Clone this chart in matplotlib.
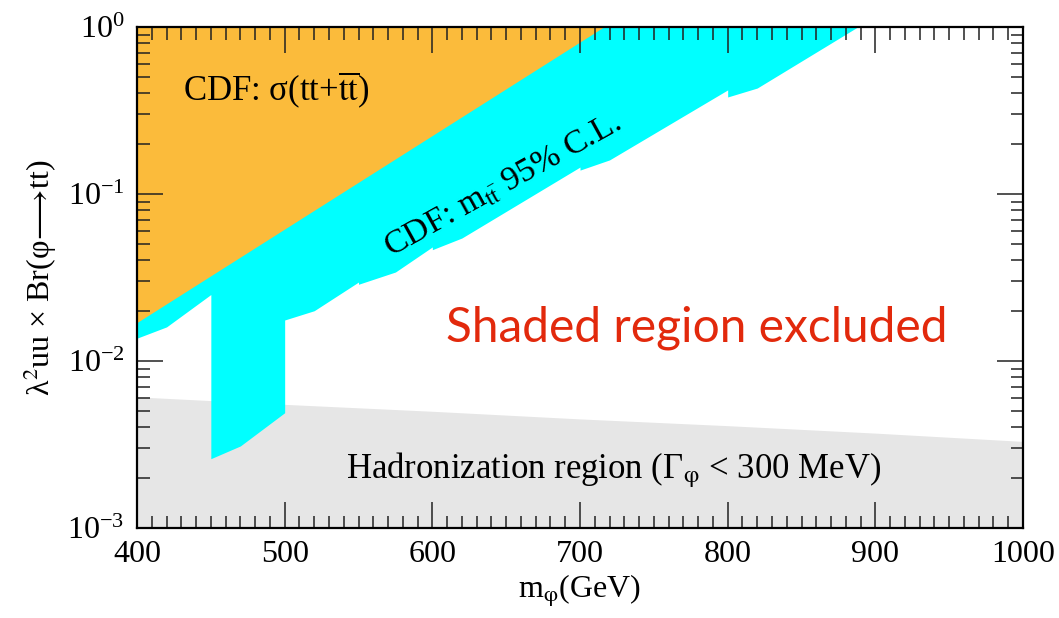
import numpy as np
import matplotlib
matplotlib.use("Agg")
import matplotlib.pyplot as plt
from matplotlib.ticker import LogFormatterMathtext, MultipleLocator, LogLocator

plt.rcParams['font.family'] = ['Liberation Serif', 'DejaVu Serif']
plt.rcParams['mathtext.fontset'] = 'stix'

# CDF sigma(tt+tt~) exclusion: straight edge in log scale
mass_sigma = [400, 716, 1000]
limit_sigma = [0.017, 1.0, 1.0]

# CDF m_tt 95% C.L. exclusion, lower edge (steps at the mass points)
mass_mtt = [400, 420, 450, 450, 470, 500, 500, 520, 550, 550, 575, 600, 600, 620,
            700, 700, 720, 800, 800, 820, 888, 1000]
limit_mtt = [0.0137, 0.016, 0.025, 0.0026, 0.0031, 0.0049, 0.0176, 0.020, 0.0297, 0.0288,
             0.0341, 0.0482, 0.0464, 0.0545, 0.145, 0.139, 0.160, 0.42, 0.381, 0.431, 1.0, 1.0]

# hadronization region (Gamma_phi < 300 MeV), upper edge
mass_had = [400, 500, 600, 700, 800, 900, 1000]
limit_had = [0.0061, 0.0055, 0.0050, 0.0045, 0.0041, 0.0037, 0.0033]

W, H = 1059, 618
fig = plt.figure(figsize=(W / 100, H / 100), dpi=100)
ax = fig.add_axes([137 / W, 1 - 528 / H, (1023 - 137) / W, (528 - 27) / H])

ax.fill_between(mass_had, 1e-3, limit_had, color='#e6e6e6', lw=0, zorder=1)
ax.fill_between(mass_mtt, limit_mtt, 1.0, color='#00ffff', lw=0, zorder=1.1)
ax.fill_between(mass_sigma, limit_sigma, 1.0, color='#fbbb3b', lw=0, zorder=1.2)

ax.set_yscale('log')
ax.set_xlim(400, 1000)
ax.set_ylim(1e-3, 1)

ax.xaxis.set_major_locator(MultipleLocator(100))
ax.xaxis.set_minor_locator(MultipleLocator(10))
ax.yaxis.set_major_locator(LogLocator(base=10))
ax.yaxis.set_minor_locator(LogLocator(base=10, subs=np.arange(2, 10)))
ax.yaxis.set_major_formatter(LogFormatterMathtext())
ax.yaxis.set_minor_formatter(plt.NullFormatter())

ax.tick_params(which='both', direction='in', top=True, right=True, width=1.1, color='#222222')
ax.tick_params(which='major', length=19, labelsize=23, pad=9)
ax.tick_params(which='minor', length=9)
for s in ax.spines.values():
    s.set_linewidth(1.6)
    s.set_zorder(5)

ax.set_xlabel('m$_{\\mathrm{φ}}$(GeV)', fontsize=23, labelpad=2)
ax.set_ylabel('λ$^{2}$uu × Br(φ$\\!\\longrightarrow\\!$tt)', fontsize=23, labelpad=6)

# annotations
fig.text(276 / W, 1 - 90 / H, r'CDF: σ(tt+$\overline{\mathrm{tt}}$)', fontsize=25,
         ha='center', va='center')
fig.text(503 / W, 1 - 186 / H, r'CDF: m$_{\mathrm{t}\bar{\mathrm{t}}}$ 95% C.L.', fontsize=24.5,
         ha='center', va='center', rotation=29, rotation_mode='anchor')
fig.text(697 / W, 1 - 328 / H, 'Shaded region excluded', fontsize=34.5, family='Lato',
         color='#e2290c', ha='center', va='center')
fig.text(614 / W, 1 - 470 / H, 'Hadronization region (Γ$_{\\mathrm{φ}}$ < 300 MeV)', fontsize=25,
         ha='center', va='center')

plt.savefig('out.png', dpi=100)
